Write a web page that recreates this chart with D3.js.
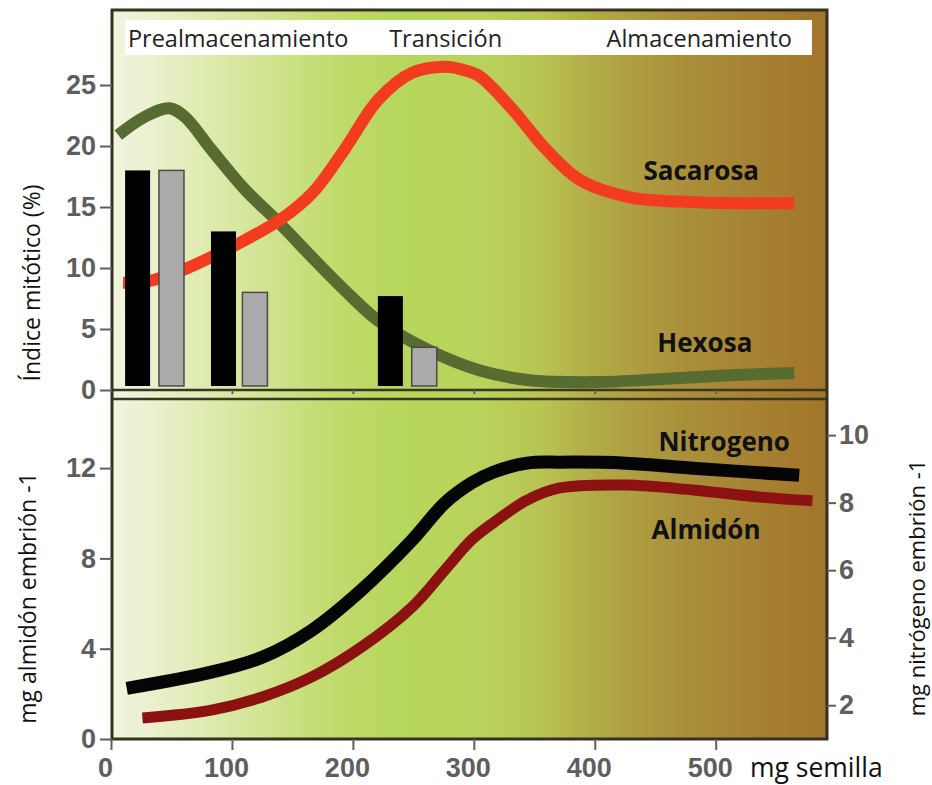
<!DOCTYPE html>
<meta charset="utf-8">
<html>
<head>
<style>
  body { margin: 0; background: #fff; }
  .tick text { font-family: "Liberation Sans", Arial, sans-serif; font-weight: bold; font-size: 27px; fill: #5e5e5e; }
  .tick line { stroke: #5e5e5e; stroke-width: 2px; }
  .domain { display: none; }
  .title { font-family: "Open Sans", sans-serif; font-size: 23px; fill: #111; }
  .phase { font-family: "Open Sans", sans-serif; font-size: 23.5px; fill: #222; }
  .lbl { font-family: "Open Sans", sans-serif; font-size: 26px; font-weight: bold; fill: #111; }
  .curve { fill: none; stroke-linecap: butt; stroke-linejoin: round; }
</style>
</head>
<body>
<svg width="932" height="785"></svg>
<script src="https://d3js.org/d3.v7.min.js"></script>
<script>

// ---- data (x in mg semilla) ----
var phaseNames = ["Prealmacenamiento", "Transición", "Almacenamiento"];
var phaseX = [14, 230, 563];

// top panel: mitotic index bars
var blackBarX = [22, 93, 231],  blackBarVals = [18, 13, 7.7];
var greyBarX  = [50, 119, 259], greyBarVals  = [18, 8, 3.5];

// top panel curves
var sacarosa = [[10, 8.8], [30, 8.9], [56, 9.7], [83, 10.9], [111, 12.3], [139, 13.9], [166, 16.1],
  [193, 19.7], [221, 23.8], [249, 26.0], [276, 26.5], [293, 26.2], [305, 25.7], [332, 23.0],
  [360, 19.7], [388, 17.2], [429, 15.8], [484, 15.4], [565, 15.3]];
var hexosa = [[6, 20.9], [28, 22.4], [48, 23.1], [61, 22.4], [83, 19.7], [111, 16.4], [139, 13.7],
  [166, 10.9], [193, 8.2], [222, 5.6], [264, 3.2], [305, 1.6], [346, 0.8], [402, 0.65],
  [456, 0.9], [512, 1.2], [565, 1.4]];

// bottom panel curves
var nitrogeno = [[13, 2.5], [83, 2.98], [125, 3.42], [166, 4.22], [207, 5.41], [249, 6.89], [276, 7.99],
  [298, 8.58], [316, 8.9], [344, 9.17], [371, 9.2], [426, 9.17], [481, 9.02], [569, 8.81]];
var almidon = [[26, 0.93], [83, 1.28], [125, 1.86], [166, 2.75], [207, 4.07], [249, 5.85], [276, 7.48],
  [298, 8.81], [316, 9.57], [344, 10.58], [371, 11.12], [426, 11.25], [481, 11.03], [536, 10.72], [580, 10.55]];

var xTicks = [0, 100, 200, 300, 400, 500];
var topTicks = [0, 5, 10, 15, 20, 25];
var leftTicks = [0, 4, 8, 12];
var rightTicks = [2, 4, 6, 8, 10];

var curveLabels = [
  {text: "Sacarosa",  x: 488, y: 18.0, axis: "top"},
  {text: "Hexosa",    x: 491, y: 3.85, axis: "top"},
  {text: "Nitrogeno", x: 507, y: 9.79, axis: "right"},
  {text: "Almidón",   x: 492, y: 9.26, axis: "left"}
];

// ---- layout ----
var svg = d3.select("svg");
var frame = {left: 112, right: 827, top: 10, bottom: 739, mid1: 390, mid2: 399};

var x = d3.scaleLinear().domain([0, 592]).range([111, 827]);
var yTop = d3.scaleLinear().domain([0, 31.15]).range([frame.mid1, frame.top]);
var yLeft = d3.scaleLinear().domain([0, 15.06]).range([frame.bottom, frame.mid2]);
var yRight = d3.scaleLinear().domain([1, 11.07]).range([frame.bottom, frame.mid2]);

// background gradient
var grad = svg.append("defs").append("linearGradient").attr("id", "bg")
  .attr("x1", "0%").attr("x2", "100%").attr("y1", "0%").attr("y2", "0%");
[[0, "#f1f5df"], [0.05, "#ebf1d0"], [0.17, "#d8e8a2"], [0.3, "#c2dc70"], [0.4, "#b7d65c"], [0.52, "#b8d35b"],
 [0.6, "#b8c453"], [0.68, "#b1a946"], [0.8, "#aa8f3a"], [1, "#a2752a"]].forEach(function (s) {
  grad.append("stop").attr("offset", s[0]).attr("stop-color", s[1]);
});

svg.append("rect")
  .attr("x", frame.left).attr("y", frame.top)
  .attr("width", frame.right - frame.left).attr("height", frame.bottom - frame.top)
  .attr("fill", "url(#bg)");

// header band
svg.append("rect").attr("x", 125).attr("y", 20).attr("width", 687).attr("height", 35).attr("fill", "#fff");
svg.selectAll(".phase").data(phaseNames).enter().append("text")
  .attr("class", "phase")
  .attr("x", function (d, i) { return x(phaseX[i]); })
  .attr("y", 47)
  .attr("text-anchor", function (d, i) { return i == 2 ? "end" : "start"; })
  .text(function (d) { return d; });

// curves
var lineTop = d3.line().x(function (d) { return x(d[0]); }).y(function (d) { return yTop(d[1]); }).curve(d3.curveCatmullRom);
var lineLeft = d3.line().x(function (d) { return x(d[0]); }).y(function (d) { return yLeft(d[1]); }).curve(d3.curveCatmullRom);
var lineRight = d3.line().x(function (d) { return x(d[0]); }).y(function (d) { return yRight(d[1]); }).curve(d3.curveCatmullRom);

svg.append("path").datum(hexosa).attr("class", "curve").attr("stroke", "#586b31").attr("stroke-width", 12).attr("d", lineTop);
svg.append("path").datum(sacarosa).attr("class", "curve").attr("stroke", "#f23b1f").attr("stroke-width", 12).attr("d", lineTop);
svg.append("path").datum(almidon).attr("class", "curve").attr("stroke", "#8c1212").attr("stroke-width", 11).attr("d", lineLeft);
svg.append("path").datum(nitrogeno).attr("class", "curve").attr("stroke", "#050505").attr("stroke-width", 13).attr("d", lineRight);

// bars (on top of curves)
var bw = 25;
svg.selectAll(".bblack").data(blackBarVals).enter().append("rect")
  .attr("class", "bblack")
  .attr("x", function (d, i) { return x(blackBarX[i]) - bw / 2; })
  .attr("y", function (d) { return yTop(d); })
  .attr("width", bw)
  .attr("height", function (d) { return yTop(0) - yTop(d) - 4; })
  .attr("fill", "#000");
svg.selectAll(".bgrey").data(greyBarVals).enter().append("rect")
  .attr("class", "bgrey")
  .attr("x", function (d, i) { return x(greyBarX[i]) - bw / 2; })
  .attr("y", function (d) { return yTop(d); })
  .attr("width", bw)
  .attr("height", function (d) { return yTop(0) - yTop(d) - 4; })
  .attr("fill", "#ababab").attr("stroke", "#4a4a4a").attr("stroke-width", 1.5);

// curve labels
svg.selectAll(".lbl").data(curveLabels).enter().append("text")
  .attr("class", "lbl")
  .attr("x", function (d) { return x(d.x); })
  .attr("y", function (d) {
    var s = d.axis == "top" ? yTop : (d.axis == "left" ? yLeft : yRight);
    return s(d.y);
  })
  .attr("dy", "0.35em")
  .attr("text-anchor", "middle")
  .text(function (d) { return d.text; });

// divider lines and frame
svg.append("line").attr("x1", frame.left).attr("x2", frame.right).attr("y1", frame.mid1).attr("y2", frame.mid1)
  .attr("stroke", "#3a3526").attr("stroke-width", 2.5);
svg.append("line").attr("x1", frame.left).attr("x2", frame.right).attr("y1", frame.mid2).attr("y2", frame.mid2)
  .attr("stroke", "#3a3526").attr("stroke-width", 2.5);
svg.append("rect")
  .attr("x", frame.left).attr("y", frame.top)
  .attr("width", frame.right - frame.left).attr("height", frame.bottom - frame.top)
  .attr("fill", "none").attr("stroke", "#36321f").attr("stroke-width", 3);

// axes
svg.append("g").attr("transform", "translate(" + frame.left + ",0)")
  .call(d3.axisLeft(yTop).tickValues(topTicks).tickSize(12).tickPadding(4));
svg.append("g").attr("transform", "translate(" + frame.left + ",0)")
  .call(d3.axisLeft(yLeft).tickValues(leftTicks).tickSize(12).tickPadding(4));
svg.append("g").attr("transform", "translate(" + frame.right + ",0)")
  .call(d3.axisRight(yRight).tickValues(rightTicks).tickSize(9).tickPadding(3));
svg.append("g").attr("transform", "translate(0," + frame.bottom + ")")
  .call(d3.axisBottom(x).tickValues(xTicks).tickSize(11).tickPadding(8))
  .selectAll("text").attr("dx", "-6");
var midAx = svg.append("g").attr("transform", "translate(0," + frame.mid1 + ")")
  .call(d3.axisBottom(x).tickValues(xTicks.slice(1)).tickSize(4).tickFormat(""));
midAx.selectAll("line").attr("stroke", "#2a2a1a");

// axis titles
svg.append("text").attr("class", "title")
  .attr("transform", "translate(40,283) rotate(-90)")
  .attr("text-anchor", "middle").text("Índice mitótico (%)");
svg.append("text").attr("class", "title")
  .attr("transform", "translate(36,598) rotate(-90)")
  .attr("text-anchor", "middle").text("mg almidón embrión -1");
svg.append("text").attr("class", "title")
  .attr("transform", "translate(925,588) rotate(-90)")
  .attr("text-anchor", "middle").style("font-size", "22px").text("mg nitrógeno embrión -1");
svg.append("text").attr("class", "title")
  .attr("x", 750).attr("y", 777)
  .style("font-size", "26.5px")
  .text("mg semilla");

</script>
</body>
</html>
